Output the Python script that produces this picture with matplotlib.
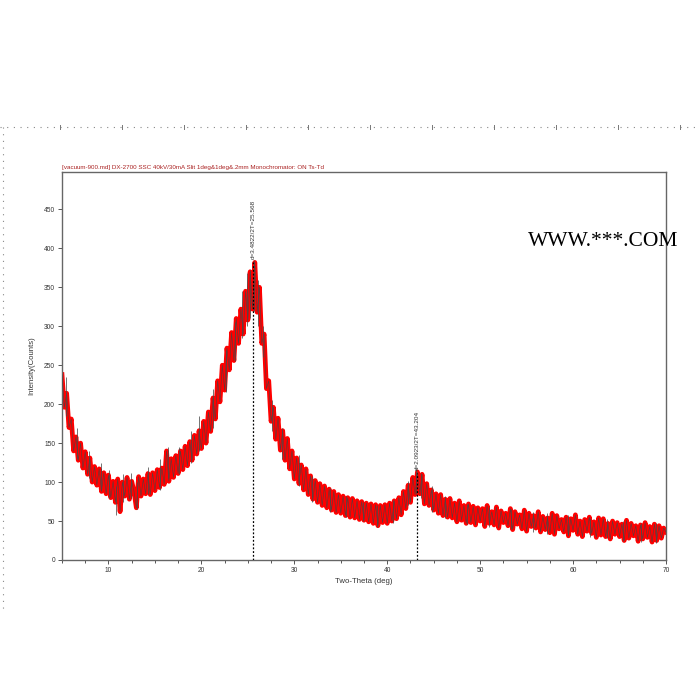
import matplotlib
matplotlib.use("Agg")
import matplotlib.pyplot as plt
from matplotlib.lines import Line2D
import numpy as np

# ---- data ----
two_theta_start = 5.0
two_theta_step = 0.25
counts = [
    238, 196, 214, 170, 181, 140, 158, 128, 150, 118, 139, 110,
    131, 100, 120, 96, 117, 88, 112, 85, 109, 80, 101, 74,
    104, 62, 100, 82, 106, 78, 101, 88, 67, 107, 82, 104,
    85, 111, 84, 112, 89, 116, 93, 118, 97, 140, 101, 130,
    106, 134, 111, 140, 116, 146, 121, 152, 128, 160, 136, 166,
    143, 178, 150, 190, 165, 208, 181, 230, 203, 250, 218, 272,
    244, 292, 256, 310, 278, 322, 290, 345, 308, 370, 322, 382,
    318, 350, 278, 290, 220, 230, 178, 196, 155, 182, 141, 166,
    128, 156, 117, 140, 104, 131, 98, 122, 90, 117, 84, 108,
    78, 102, 74, 98, 70, 95, 67, 91, 64, 88, 61, 84,
    60, 82, 57, 80, 55, 79, 54, 76, 52, 75, 51, 73,
    49, 72, 47, 71, 44, 70, 48, 71, 47, 73, 50, 76,
    53, 80, 58, 88, 66, 96, 74, 106, 84, 113, 85, 110,
    72, 98, 70, 90, 64, 85, 60, 84, 57, 78, 55, 79,
    54, 73, 49, 76, 51, 70, 47, 72, 48, 69, 45, 67,
    50, 66, 43, 70, 47, 62, 45, 68, 41, 63, 48, 60,
    44, 66, 39, 62, 46, 58, 40, 64, 37, 60, 43, 57,
    41, 62, 36, 56, 39, 54, 35, 60, 33, 57, 40, 52,
    36, 55, 31, 53, 38, 58, 33, 50, 30, 52, 37, 55,
    34, 49, 29, 54, 32, 53, 30, 47, 27, 50, 33, 48,
    30, 46, 25, 51, 28, 47, 31, 44, 24, 45, 27, 48,
    29, 43, 23, 46, 25, 44, 28, 41, 36,
]
two_theta = two_theta_start + two_theta_step * np.arange(len(counts))

# isolated noise spikes visible as dark strokes
spike_x = [5.4, 6.6, 7.9, 9.2, 10.1, 10.8, 11.6, 12.4, 13.1, 14.3, 15.6, 16.4,
           17.6, 18.9, 19.7, 21.3, 22.6, 23.6, 24.4, 24.9, 25.2, 25.7, 26.1, 26.6,
           27.6, 28.7, 30.5, 31.9, 33.8, 35.6, 37.4, 38.9, 40.6, 42.2, 43.1, 43.6,
           44.8, 46.2, 48.6, 50.9, 53.3, 55.7, 57.2, 59.4, 61.8, 63.6, 65.4, 67.3, 68.9]
spike_lo = [185, 130, 105, 90, 80, 58, 75, 80, 65, 85, 90, 105,
            110, 125, 140, 170, 215, 255, 285, 300, 310, 320, 300, 260,
            165, 130, 95, 75, 62, 55, 50, 42, 48, 70, 85, 80,
            62, 54, 46, 42, 40, 36, 33, 32, 30, 28, 25, 23, 22]
spike_hi = [235, 170, 140, 125, 115, 95, 110, 112, 100, 120, 130, 145,
            145, 165, 185, 220, 270, 305, 345, 368, 372, 385, 360, 300,
            205, 170, 135, 108, 92, 82, 75, 70, 77, 102, 118, 112,
            95, 82, 72, 68, 66, 62, 60, 58, 54, 52, 50, 48, 47]

peak_positions = [25.568, 43.204]
peak_heights = [382, 112]
peak_labels = ["d=3.4822/2T=25.568", "d=2.0923/2T=43.204"]

x_ticks = [10, 20, 30, 40, 50, 60, 70]
y_ticks = [0, 50, 100, 150, 200, 250, 300, 350, 400, 450]

title_text = "[vacuum-900.md] DX-2700 SSC 40kV/30mA Slit 1deg&1deg&.2mm Monochromator: ON Ts-Td"
x_label = "Two-Theta (deg)"
y_label = "Intensity(Counts)"
watermark = "WWW.***.COM"

# ---- figure ----
plt.rcParams['font.family'] = ['Liberation Sans', 'DejaVu Sans']
fig = plt.figure(figsize=(7, 7), dpi=100)
fig.patch.set_facecolor('white')

ax = fig.add_axes([62 / 700, 1 - 560 / 700, (666 - 62) / 700, (560 - 172) / 700])
ax.plot(two_theta, counts, color='#ff0000', lw=3.4, solid_joinstyle='round', zorder=2)
ax.plot(two_theta, counts, color='#444444', lw=0.45, alpha=0.85, zorder=3)
ax.vlines(spike_x, spike_lo, spike_hi, color='#4a4a4a', lw=0.6, alpha=0.9, zorder=3)

for px, ph, lab in zip(peak_positions, peak_heights, peak_labels):
    ax.plot([px, px], [0, ph], color='black', lw=0.9, ls=(0, (1.5, 1.5)), zorder=4)
    ax.text(px, ph + 4, lab, rotation=90, ha='center', va='bottom',
            fontsize=4.6, color='#333333')

ax.set_xlim(5, 70)
ax.set_ylim(0, 498)
ax.set_xticks(x_ticks)
ax.set_xticks(np.arange(5, 70.1, 2.5), minor=True)
ax.set_yticks(y_ticks)
ax.tick_params(axis='both', which='both', direction='out', labelsize=4.8,
               colors='#555555', labelcolor='#333333', width=0.7)
ax.tick_params(axis='both', which='major', length=3, pad=2)
ax.tick_params(axis='both', which='minor', length=2)
for s in ax.spines.values():
    s.set_color('#666666')
    s.set_linewidth(1.0)

ax.set_xlabel(x_label, fontsize=5.6, color='#333333', labelpad=3)
ax.set_ylabel(y_label, fontsize=5.6, color='#333333', labelpad=6)

fig.text(62 / 700, 1 - 170 / 700, title_text, fontsize=4.5, color='#aa2222',
         ha='left', va='bottom')

fig.text(528 / 700, 1 - 241 / 700, watermark, fontsize=15.5, color='black',
         family='Liberation Serif', ha='left', va='center')

# page ruler (dotted) at top and left
fig.add_artist(Line2D([0, 1], [1 - 127 / 700, 1 - 127 / 700], color='#888888',
                      lw=0.8, ls=(0, (1, 5)), transform=fig.transFigure))
fig.add_artist(Line2D([3 / 700, 3 / 700], [1 - 127 / 700, 1 - 610 / 700], color='#888888',
                      lw=0.8, ls=(0, (1, 5)), transform=fig.transFigure))
for i in range(12):
    xx = (60 + 62 * i) / 700
    fig.add_artist(Line2D([xx, xx], [1 - 125 / 700, 1 - 129 / 700], color='#777777',
                          lw=0.7, transform=fig.transFigure))

fig.savefig('out.png', dpi=100, facecolor='white')
